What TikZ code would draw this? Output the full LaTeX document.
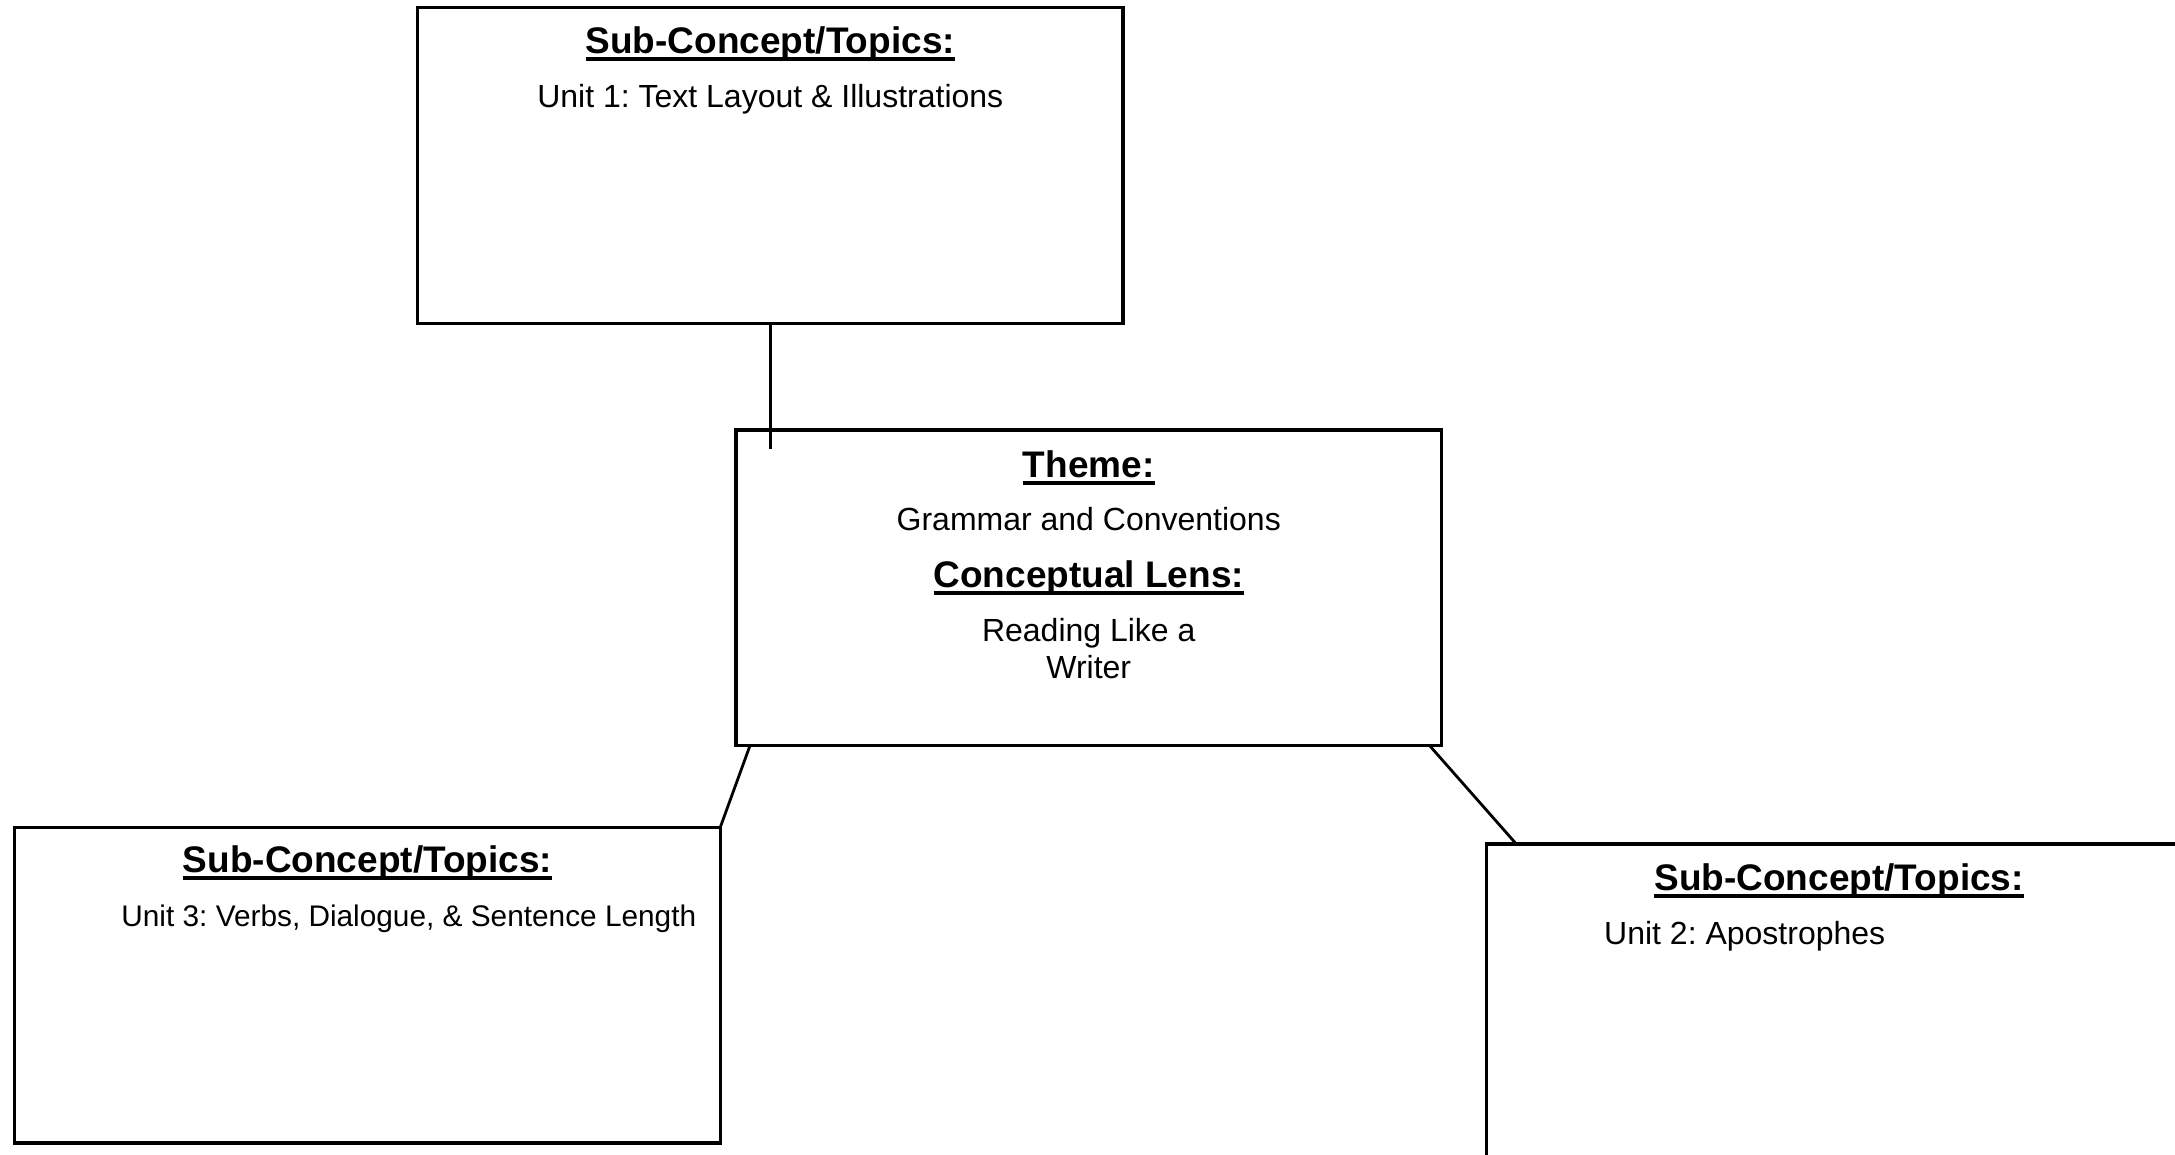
\documentclass[tikz,border=0pt]{standalone}
\usepackage{fontspec}
\setmainfont{Liberation Sans}
\frenchspacing

% bold heading with a heavy underline
\newsavebox\ulsave
\newcommand\ulbox[1]{\sbox\ulsave{#1}\rlap{\rule[-7.5pt]{\wd\ulsave}{4pt}}\usebox\ulsave}

\begin{document}
\begin{tikzpicture}[x=1pt,y=-1pt,
  panel/.style={draw=black, line width=3.3pt, rectangle,
    minimum width=705.5pt, minimum height=315.5pt,
    inner sep=0pt, outer sep=0pt, anchor=north west},
  link/.style={draw=black, line width=2.8pt},
  heading/.style={font=\bfseries\fontsize{37}{44}\selectfont, inner sep=0pt, anchor=base},
  entry/.style={font=\fontsize{32}{37}\selectfont, inner sep=0pt, anchor=base},
  smallentry/.style={font=\fontsize{29.8}{35}\selectfont, inner sep=0pt, anchor=base west}]

\useasboundingbox (0,0) rectangle (2175,1155);
\clip (0,0) rectangle (2175,1155);

% the four boxes
\node[panel] (top)    at (417.5,7.7)  {};
\node[panel] (center) at (736,430)    {};
\node[panel] (left)   at (14.7,827.5) {};
\node[panel] (right)  at (1486.3,844) {};

% connectors
\draw[link] (top.south) -- ([yshift=-19pt]center.north -| top.south);
\draw[link] ([xshift=14pt]center.south west) -- (left.north east);
\draw[link] ([xshift=-12pt]center.south east) -- ([xshift=30pt]right.north west);

% top box
\node[heading] (topHead) at ([yshift=-45.6pt]top.north) {\ulbox{Sub-Concept/Topics:}};
\node[entry]   (topBody) at ([yshift=-99.6pt]top.north) {Unit 1: Text Layout \& Illustrations};

% central box
\node[heading] (themeHead) at ([yshift=-47pt]center.north)    {\ulbox{Theme:}};
\node[entry]   (themeBody) at ([yshift=-100pt]center.north)   {Grammar and Conventions};
\node[heading] (lensHead)  at ([yshift=-157.7pt]center.north) {\ulbox{Conceptual Lens:}};
\node[entry]   (lensBodyA) at ([yshift=-211.7pt]center.north) {Reading Like a};
\node[entry]   (lensBodyB) at ([yshift=-248.3pt]center.north) {Writer};

% lower left box
\node[heading]    (leftHead) at ([yshift=-45.4pt]left.north) {\ulbox{Sub-Concept/Topics:}};
\node[smallentry] (leftBody) at ([xshift=106.5pt,yshift=-99.4pt]left.north west) {Unit 3: Verbs, Dialogue, \& Sentence Length};

% lower right box
\node[heading] (rightHead) at ([yshift=-46pt]right.north) {\ulbox{Sub-Concept/Topics:}};
\node[entry, anchor=base west] (rightBody) at ([xshift=117.7pt,yshift=-100pt]right.north west) {Unit 2: Apostrophes};

\end{tikzpicture}
\end{document}
